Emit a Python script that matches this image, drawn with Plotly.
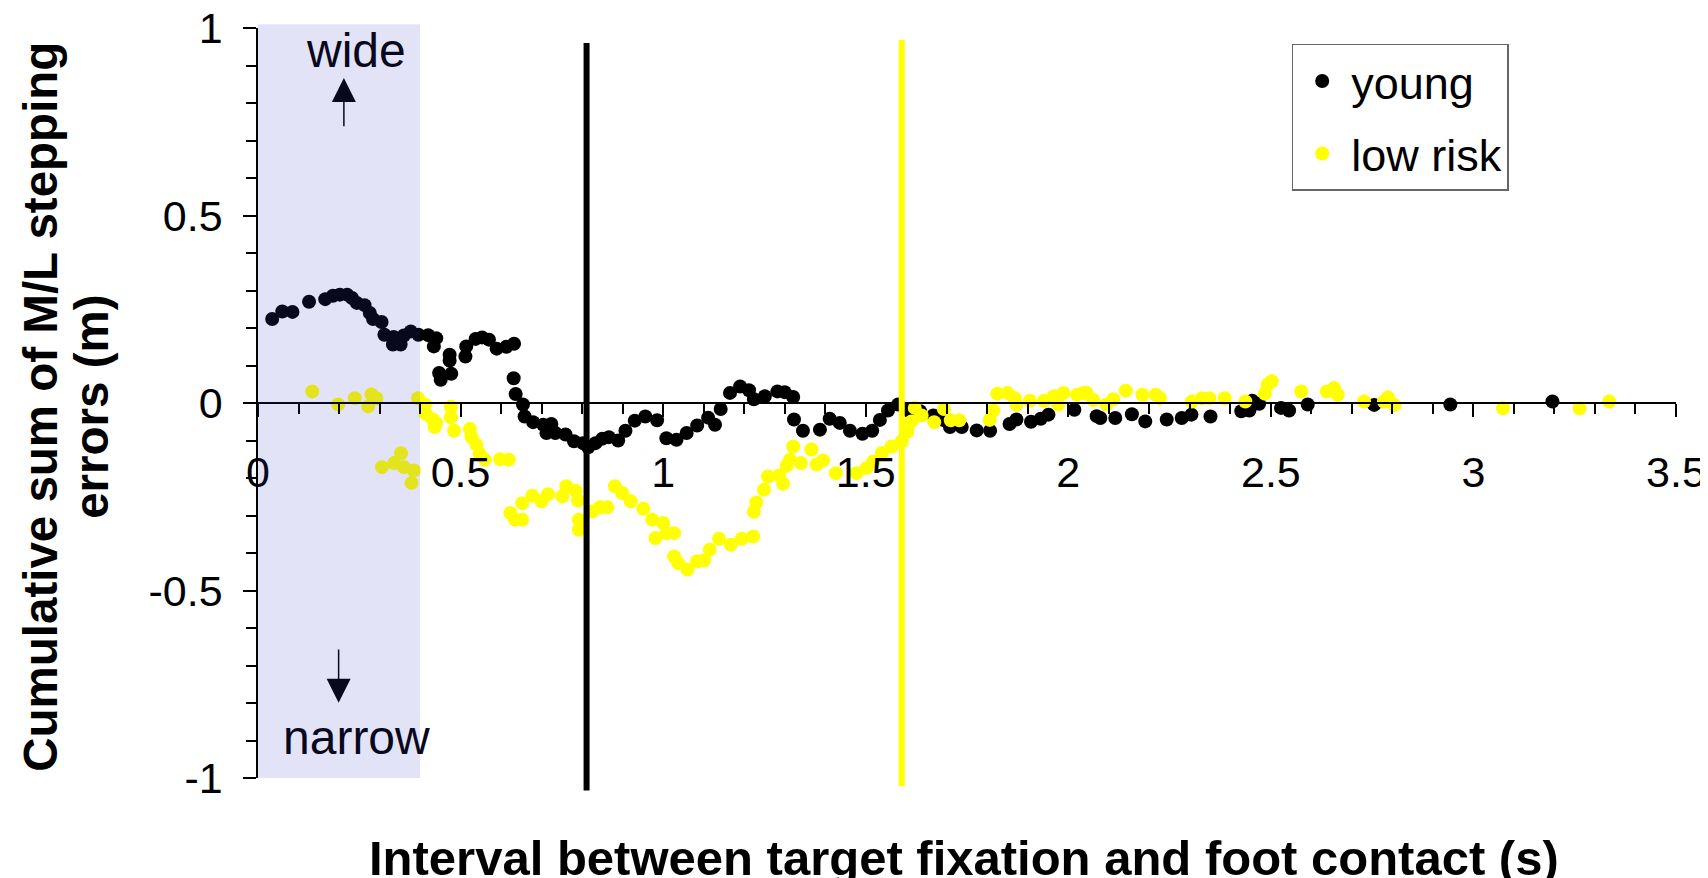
import plotly.graph_objects as go

# ---------------- data ----------------
young_x = [0.035, 0.060, 0.085, 0.126, 0.166, 0.185, 0.202, 0.220, 0.232, 0.244,
           0.263, 0.276, 0.284, 0.305, 0.312, 0.335, 0.333, 0.352, 0.360, 0.377,
           0.396, 0.420, 0.440, 0.434, 0.473, 0.473, 0.477, 0.451, 0.447, 0.512,
           0.514, 0.537, 0.553, 0.570, 0.589, 0.613, 0.632, 0.631, 0.636, 0.654,
           0.658, 0.679, 0.704, 0.712, 0.724, 0.734, 0.759, 0.780, 0.802, 0.815,
           0.833, 0.850, 0.866, 0.889, 0.907, 0.930, 0.956, 0.985, 1.008, 1.033,
           1.058, 1.084, 1.111, 1.128, 1.142, 1.165, 1.190, 1.212, 1.224, 1.251,
           1.282, 1.300, 1.321, 1.323, 1.345, 1.387, 1.411, 1.436, 1.461, 1.492,
           1.516, 1.535, 1.555, 1.580, 1.605, 1.634, 1.667, 1.691, 1.708, 1.737,
           1.774, 1.807, 1.855, 1.872, 1.908, 1.932, 1.951, 2.015, 2.070, 2.079,
           2.116, 2.157, 2.190, 2.243, 2.280, 2.304, 2.351, 2.427, 2.447, 2.454,
           2.471, 2.525, 2.545, 2.591, 2.755, 2.943, 3.195]
young_y = [0.224, 0.244, 0.243, 0.270, 0.277, 0.286, 0.289, 0.289, 0.280, 0.267,
           0.261, 0.240, 0.224, 0.216, 0.182, 0.176, 0.156, 0.156, 0.180, 0.191,
           0.182, 0.181, 0.173, 0.151, 0.129, 0.113, 0.078, 0.062, 0.080, 0.124,
           0.151, 0.171, 0.175, 0.169, 0.145, 0.150, 0.158, 0.066, 0.024, -0.004,
           -0.036, -0.051, -0.058, -0.080, -0.056, -0.080, -0.084, -0.102, -0.107, -0.118,
           -0.107, -0.095, -0.091, -0.100, -0.074, -0.047, -0.036, -0.046, -0.094, -0.098,
           -0.080, -0.060, -0.039, -0.058, -0.016, 0.027, 0.044, 0.034, 0.010, 0.018,
           0.031, 0.029, 0.016, -0.044, -0.074, -0.071, -0.042, -0.053, -0.074, -0.082,
           -0.074, -0.045, -0.020, -0.004, -0.020, -0.022, -0.033, -0.045, -0.064, -0.064,
           -0.073, -0.074, -0.056, -0.044, -0.050, -0.042, -0.031, -0.018, -0.035, -0.040,
           -0.040, -0.030, -0.049, -0.044, -0.040, -0.031, -0.036, -0.022, -0.020, 0.006,
           -0.002, -0.013, -0.020, -0.004, -0.005, -0.004, 0.004]

lowrisk_x = [0.134, 0.198, 0.239, 0.272, 0.280, 0.292, 0.306, 0.336, 0.353, 0.360,
             0.385, 0.379, 0.395, 0.412, 0.414, 0.431, 0.440, 0.436, 0.476, 0.476,
             0.484, 0.523, 0.527, 0.539, 0.547, 0.560, 0.598, 0.619, 0.623, 0.634,
             0.652, 0.652, 0.677, 0.700, 0.716, 0.751, 0.761, 0.784, 0.790, 0.792,
             0.792, 0.825, 0.844, 0.862, 0.881, 0.899, 0.920, 0.951, 0.973, 0.981,
             1.000, 1.008, 1.027, 1.027, 1.037, 1.060, 1.084, 1.101, 1.115, 1.138,
             1.167, 1.194, 1.222, 1.224, 1.230, 1.249, 1.259, 1.286, 1.296, 1.305,
             1.313, 1.321, 1.340, 1.366, 1.379, 1.395, 1.426, 1.477, 1.502, 1.519,
             1.540, 1.564, 1.589, 1.603, 1.613, 1.621, 1.638, 1.669, 1.693, 1.710,
             1.731, 1.806, 1.815, 1.825, 1.850, 1.868, 1.872, 1.905, 1.940, 1.965,
             1.975, 1.988, 2.022, 2.037, 2.045, 2.062, 2.094, 2.111, 2.142, 2.183,
             2.216, 2.226, 2.305, 2.330, 2.348, 2.386, 2.437, 2.485, 2.492, 2.502,
             2.575, 2.638, 2.656, 2.665, 2.730, 2.779, 2.789, 2.805, 3.073, 3.262,
             3.335]
lowrisk_y = [0.031, -0.004, 0.013, -0.009, 0.023, 0.013, -0.171, -0.160, -0.134, -0.171,
             -0.180, -0.213, 0.013, -0.004, -0.029, -0.043, -0.053, -0.064, -0.010, -0.038,
             -0.074, -0.069, -0.091, -0.111, -0.135, -0.151, -0.150, -0.151, -0.293, -0.311,
             -0.311, -0.267, -0.247, -0.262, -0.243, -0.249, -0.222, -0.234, -0.260, -0.311,
             -0.338, -0.289, -0.278, -0.278, -0.222, -0.240, -0.262, -0.282, -0.311, -0.360,
             -0.320, -0.347, -0.347, -0.409, -0.427, -0.444, -0.422, -0.420, -0.391, -0.362,
             -0.378, -0.362, -0.356, -0.290, -0.265, -0.231, -0.196, -0.193, -0.215, -0.167,
             -0.151, -0.116, -0.160, -0.124, -0.164, -0.153, -0.187, -0.187, -0.173, -0.156,
             -0.133, -0.116, -0.102, -0.076, -0.049, -0.013, -0.033, -0.051, -0.016, -0.046,
             -0.046, -0.045, -0.020, 0.025, 0.027, 0.013, -0.004, 0.006, 0.006, 0.018,
             -0.004, 0.027, 0.022, 0.027, 0.027, 0.008, -0.004, 0.010, 0.033, 0.022,
             0.022, 0.013, 0.004, 0.013, 0.013, 0.013, 0.004, 0.025, 0.049, 0.058,
             0.031, 0.031, 0.040, 0.022, 0.004, 0.004, 0.015, -0.005, -0.014, -0.014,
             0.004]

series_names = ["young", "low risk"]
young_marker_line_x = 0.811      # vertical marker for young
lowrisk_marker_line_x = 1.589    # vertical marker for low risk
shaded_x = [0.0, 0.4]            # shaded interval

x_tickvals = [0, 0.5, 1, 1.5, 2, 2.5, 3, 3.5]
x_ticktext = ["0", "0.5", "1", "1.5", "2", "2.5", "3", "3.5"]
y_tickvals = [-1, -0.5, 0, 0.5, 1]
y_ticktext = ["-1", "-0.5", "0", "0.5", "1"]

x_title = "Interval between target fixation and foot contact (s)"
y_title_lines = ["Cumulative sum of M/L stepping", "errors (m)"]

FONT = "Liberation Sans, Arial, sans-serif"
INK = "#09091E"

fig = go.Figure()
fig.add_trace(go.Scatter(x=young_x, y=young_y, mode="markers", name=series_names[0],
                         legendgroup="a",
                         marker=dict(color="#000000", size=14)))
fig.add_trace(go.Scatter(x=lowrisk_x, y=lowrisk_y, mode="markers", name=series_names[1],
                         legendgroup="b",
                         marker=dict(color="#FFFF00", size=14)))

# vertical lines
fig.add_shape(type="line", xref="x", yref="paper", x0=young_marker_line_x, x1=young_marker_line_x,
              y0=-0.0165, y1=0.98, line=dict(color="#000000", width=6), layer="above")
fig.add_shape(type="line", xref="x", yref="paper", x0=lowrisk_marker_line_x, x1=lowrisk_marker_line_x,
              y0=-0.011, y1=0.984, line=dict(color="#FFFF00", width=6), layer="above")
# translucent shaded band drawn over the data
fig.add_shape(type="rect", xref="x", yref="paper", x0=shaded_x[0], x1=shaded_x[1],
              y0=0.0, y1=1.005, fillcolor="rgba(62,62,207,0.145)", line=dict(width=0),
              layer="above")

# annotations: wide / narrow with arrows
fig.add_annotation(x=0.243, y=0.939, xref="x", yref="y", text="wide", showarrow=False,
                   font=dict(family=FONT, size=48, color=INK), xanchor="center", yanchor="middle")
fig.add_annotation(x=0.243, y=-0.893, xref="x", yref="y", text="narrow", showarrow=False,
                   font=dict(family=FONT, size=48, color=INK), xanchor="center", yanchor="middle")
fig.add_annotation(x=0.212, y=0.867, ax=0.212, ay=0.734, xref="x", yref="y", axref="x", ayref="y",
                   text="", showarrow=True, arrowhead=2, arrowsize=3.2, arrowwidth=1.5, arrowcolor=INK)
fig.add_annotation(x=0.199, y=-0.799, ax=0.199, ay=-0.653, xref="x", yref="y", axref="x", ayref="y",
                   text="", showarrow=True, arrowhead=2, arrowsize=3.2, arrowwidth=1.5, arrowcolor=INK)

# axis titles (y title as two rotated lines)
fig.add_annotation(x=-0.153, y=0.495, xref="paper", yref="paper", text="<b>" + y_title_lines[0] + "</b>",
                   showarrow=False, textangle=-90, xanchor="center", yanchor="middle",
                   font=dict(family=FONT, size=47.5, color="#000000"))
fig.add_annotation(x=-0.117, y=0.495, xref="paper", yref="paper", text="<b>" + y_title_lines[1] + "</b>",
                   showarrow=False, textangle=-90, xanchor="center", yanchor="middle",
                   font=dict(family=FONT, size=47.5, color="#000000"))
fig.add_annotation(x=0.498, y=-0.106, xref="paper", yref="paper", text="<b>" + x_title + "</b>",
                   showarrow=False, xanchor="center", yanchor="middle",
                   font=dict(family=FONT, size=49, color="#000000"))

# page body has an 8px margin: size the figure so that it reaches the window edges
fig.update_layout(
    width=1700, height=870,
    margin=dict(l=250, r=32, t=20, b=100, autoexpand=False),
    paper_bgcolor="white", plot_bgcolor="white",
    font=dict(family=FONT, color="#000000"),
    showlegend=True,
    legend=dict(x=0.729, y=0.979, xanchor="left", yanchor="top",
                bordercolor="#666666", borderwidth=1.5, bgcolor="white",
                font=dict(family=FONT, size=45, color="#000000"),
                itemwidth=48,
                traceorder="grouped", tracegroupgap=11),
    xaxis=dict(range=[0, 3.5], anchor="free", position=0.5, automargin=False,
               tickmode="array", tickvals=x_tickvals, ticktext=x_ticktext,
               ticks="outside", ticklen=13, tickwidth=1.5, tickcolor="#000000",
               minor=dict(tick0=0, dtick=0.1, ticks="outside", ticklen=10, tickwidth=1.5,
                          tickcolor="#000000", showgrid=False),
               showline=True, linecolor="#000000", linewidth=1.5,
               showgrid=False, zeroline=False, ticklabeloverflow="allow",
               tickfont=dict(family=FONT, size=43, color="#000000"),
               ticklabelstandoff=19),
    yaxis=dict(range=[-1, 1], automargin=False,
               tickmode="array", tickvals=y_tickvals, ticktext=y_ticktext,
               ticks="outside", ticklen=13, tickwidth=1.5, tickcolor="#000000",
               minor=dict(tick0=0, dtick=0.1, ticks="outside", ticklen=10, tickwidth=1.5,
                          tickcolor="#000000", showgrid=False),
               showline=True, linecolor="#000000", linewidth=1.5,
               showgrid=False, zeroline=False, ticklabeloverflow="allow",
               tickfont=dict(family=FONT, size=43, color="#000000"),
               ticklabelstandoff=12),
)

fig.write_html("out.html")
